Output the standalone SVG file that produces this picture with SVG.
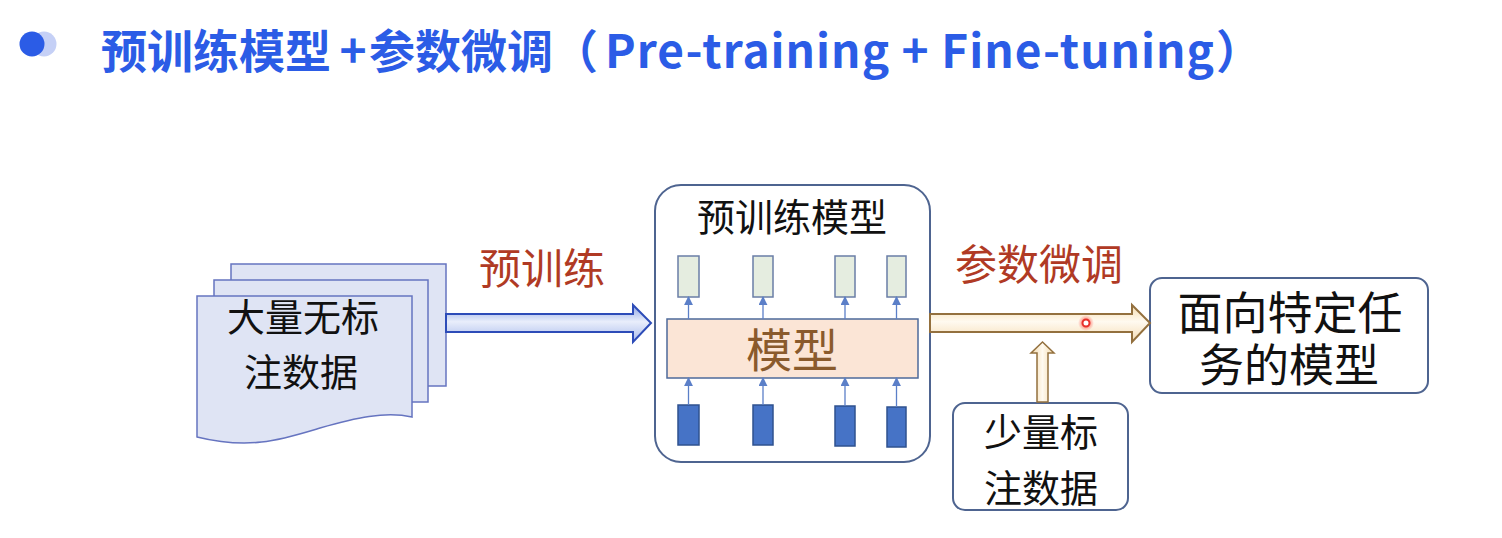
<svg xmlns="http://www.w3.org/2000/svg" width="1502" height="538" viewBox="0 0 1502 538">
  <defs>
    <linearGradient id="blueShaft" x1="0" y1="0" x2="0" y2="1">
      <stop offset="0" stop-color="#8ea6e4"/>
      <stop offset="0.45" stop-color="#e9eefb"/>
      <stop offset="1" stop-color="#a9bbec"/>
    </linearGradient>
    <linearGradient id="creamShaft" x1="0" y1="0" x2="0" y2="1">
      <stop offset="0" stop-color="#f6ddb0"/>
      <stop offset="0.45" stop-color="#fffaf0"/>
      <stop offset="1" stop-color="#f4dcb4"/>
    </linearGradient>
    <linearGradient id="creamShaftV" x1="0" y1="0" x2="1" y2="0">
      <stop offset="0" stop-color="#f3d8a8"/>
      <stop offset="0.5" stop-color="#fffaf0"/>
      <stop offset="1" stop-color="#f3d8a8"/>
    </linearGradient>
    <radialGradient id="laserGlow">
      <stop offset="0" stop-color="#ff3b2f" stop-opacity="0.9"/>
      <stop offset="1" stop-color="#ff3b2f" stop-opacity="0"/>
    </radialGradient>
    <marker id="tip" viewBox="0 0 10 10" refX="9" refY="5" markerWidth="9" markerHeight="9" markerUnits="userSpaceOnUse" orient="auto">
      <path d="M0,0 L10,5 L0,10 Z" fill="#5b7fc8"/>
    </marker>
  </defs>
  <style>
    .title { font-family: "Noto Sans CJK SC", "Noto Sans", sans-serif; font-weight: 700; font-size: 46px; fill: #2b5ce6; }
    .txt { font-family: "Noto Sans CJK SC", "Noto Sans CJK JP", sans-serif; fill: #111111; text-anchor: middle; }
    .red { font-family: "Noto Sans CJK SC", "Noto Sans CJK JP", sans-serif; fill: #b03a24; text-anchor: middle; font-size: 42px; }
    .page { fill: #dfe4f4; stroke: #6674c0; stroke-width: 1.5; }
    .box { fill: #ffffff; stroke: #4e6490; stroke-width: 2; }
    .outCell { fill: #e5ede0; stroke: #6a7ea6; stroke-width: 1.5; }
    .inCell { fill: #4673c6; stroke: #2f528f; stroke-width: 1.5; }
    .small { stroke: #5b7fc8; stroke-width: 1.3; fill: none; marker-end: url(#tip); }
  </style>

  <rect width="1502" height="538" fill="#ffffff"/>

  <!-- heading -->
  <g id="heading">
    <circle cx="44" cy="44" r="12.5" fill="#c5d0f6"/>
    <circle cx="32" cy="44" r="12.5" fill="#2b5ce6"/>
    <text class="title" x="101" y="68">预训练模型</text>
    <text class="title" x="353" y="68" text-anchor="middle">+</text>
    <text class="title" x="369" y="68">参数微调</text>
    <text class="title" x="552" y="68">（</text>
    <text class="title" x="605" y="68" textLength="609" lengthAdjust="spacing">Pre-training + Fine-tuning</text>
    <text class="title" x="1216" y="68">）</text>
  </g>

  <!-- unlabelled corpus: stacked document pages -->
  <g id="corpus">
    <rect class="page" x="231" y="264" width="215" height="122"/>
    <rect class="page" x="214" y="280" width="214" height="122"/>
    <path class="page" d="M197,296 H412 V417 C385,411 355,418 320,428 C280,440 250,450 197,437 Z"/>
    <text class="txt" font-size="38" x="303" y="331">大量无标</text>
    <text class="txt" font-size="38" x="301" y="386">注数据</text>
  </g>

  <!-- pre-trained model container -->
  <g id="pretrained">
    <rect class="box" x="655" y="185" width="275" height="277" rx="26"/>
    <text class="txt" font-size="38" x="792" y="231">预训练模型</text>
    <rect class="outCell" x="678" y="256" width="21" height="41"/>
    <rect class="outCell" x="753" y="256" width="20" height="41"/>
    <rect class="outCell" x="835" y="256" width="20" height="41"/>
    <rect class="outCell" x="887" y="256" width="19" height="41"/>
    <rect x="667" y="319" width="251" height="59" fill="#fbe5d6" stroke="#4e6a9a" stroke-width="1.5"/>
    <text class="txt" font-size="46" x="792" y="367" style="fill:#8a5a2c">模型</text>
    <rect class="inCell" x="678" y="405" width="21" height="40"/>
    <rect class="inCell" x="753" y="405" width="20" height="40"/>
    <rect class="inCell" x="835" y="406" width="20" height="40"/>
    <rect class="inCell" x="887" y="407" width="19" height="40"/>
  </g>

  <!-- task-specific model -->
  <g id="taskModel">
    <rect class="box" x="1150" y="278" width="278" height="115" rx="12"/>
    <text class="txt" font-size="45" x="1290" y="330">面向特定任</text>
    <text class="txt" font-size="45" x="1289" y="382">务的模型</text>
  </g>

  <!-- small labelled dataset -->
  <g id="labelled">
    <rect class="box" x="953" y="403" width="175" height="107" rx="12"/>
    <text class="txt" font-size="38" x="1041" y="446">少量标</text>
    <text class="txt" font-size="38" x="1041" y="502">注数据</text>
  </g>

  <!-- connectors -->
  <g id="connectors">
    <g id="innerArrows">
      <line class="small" x1="688.5" y1="319" x2="688.5" y2="297"/>
      <line class="small" x1="763" y1="319" x2="763" y2="297"/>
      <line class="small" x1="845" y1="319" x2="845" y2="297"/>
      <line class="small" x1="896.5" y1="319" x2="896.5" y2="297"/>
      <line class="small" x1="688.5" y1="405" x2="688.5" y2="378"/>
      <line class="small" x1="763" y1="405" x2="763" y2="378"/>
      <line class="small" x1="845" y1="406" x2="845" y2="378"/>
      <line class="small" x1="896.5" y1="407" x2="896.5" y2="378"/>
    </g>
    <polygon id="pretrainArrow" points="446,314 633,314 633,305 651,323 633,342 633,332 446,332" fill="url(#blueShaft)" stroke="#2d4cb8" stroke-width="2"/>
    <polygon id="finetuneArrow" points="930,314 1132,314 1132,305 1150,323 1132,342 1132,332 930,332" fill="url(#creamShaft)" stroke="#93703e" stroke-width="2"/>
    <polygon id="dataArrow" points="1037,402 1037,353 1031,353 1042.5,342 1054,353 1048,353 1048,402" fill="url(#creamShaftV)" stroke="#93703e" stroke-width="1.5"/>
  </g>

  <text class="red" x="542" y="284">预训练</text>
  <text class="red" x="1039" y="280">参数微调</text>

  <!-- pointer dot -->
  <circle cx="1086" cy="323" r="8" fill="url(#laserGlow)"/>
  <circle cx="1086" cy="323" r="3.5" fill="#ffffff" stroke="#e8302a" stroke-width="2"/>
</svg>
